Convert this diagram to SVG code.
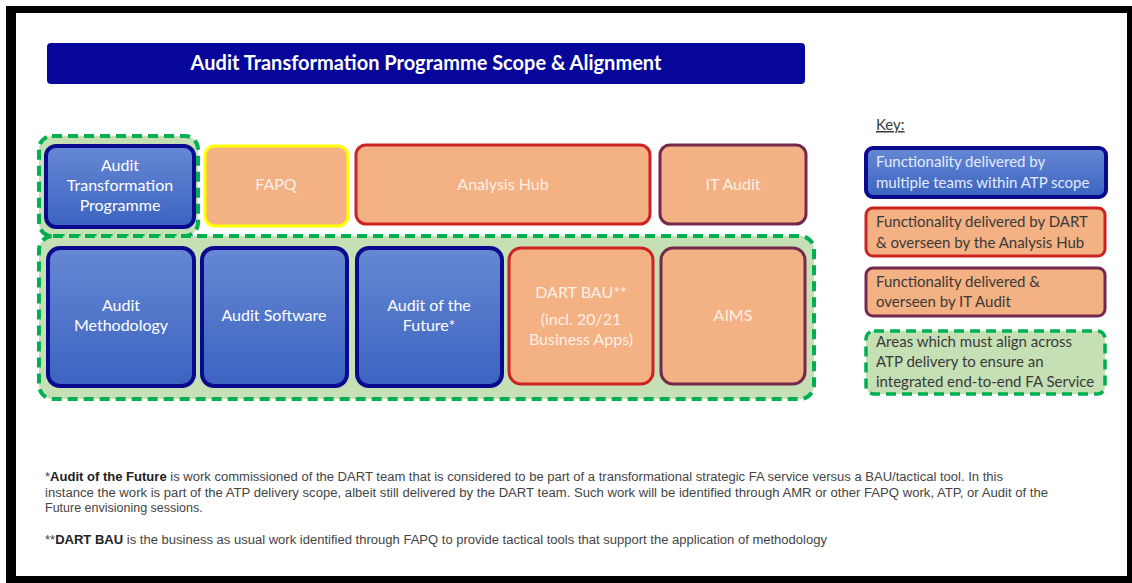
<svg xmlns="http://www.w3.org/2000/svg" width="1132" height="583" viewBox="0 0 1132 583">
  <defs>
    <linearGradient id="blueFill" x1="0" y1="0" x2="0" y2="1">
      <stop offset="0" stop-color="#6688d4"/>
      <stop offset="1" stop-color="#3b63c0"/>
    </linearGradient>
    <style>
      .blue { fill: url(#blueFill); stroke: #0a0a8e; stroke-width: 4; }
      .peach { fill: #f4b183; stroke-width: 3; }
      .red { stroke: #cc2222; }
      .maroon { stroke: #74284e; }
      .yellow { stroke: #ffff00; }
      .zone { fill: #c5e0b4; stroke: #00b050; stroke-width: 4; stroke-dasharray: 10 6; }
      .lbl { font-family: Lato, "Open Sans", sans-serif; font-size: 16px; fill: #ffffff; text-anchor: middle; }
      .lblp { fill: #fdf0e6; }
      .key { font-family: Lato, "Open Sans", sans-serif; font-size: 15px; fill: #3a3a3a; }
      .keyb { fill: #e3ebfb; }
      .note { font-family: "Liberation Sans", Arial, sans-serif; font-size: 12.5px; fill: #444444; }
      .em { font-weight: bold; fill: #222222; }
    </style>
  </defs>

  <!-- slide frame -->
  <rect x="6" y="6" width="1126" height="577" fill="#000000"/>
  <rect x="16" y="13" width="1111" height="563" fill="#ffffff"/>

  <!-- title bar -->
  <g id="title">
    <rect x="47" y="43" width="758" height="41" rx="4" fill="#06069a"/>
    <text x="426" y="70" font-family="Lato, 'Open Sans', sans-serif" font-size="20" font-weight="bold" fill="#ffffff" text-anchor="middle">Audit Transformation Programme Scope &amp; Alignment</text>
  </g>

  <!-- alignment zones -->
  <g id="zones">
    <rect class="zone" x="39" y="136" width="159" height="100" rx="13"/>
    <rect class="zone" x="39" y="236" width="775" height="163" rx="14"/>
  </g>

  <!-- top row -->
  <g id="atp">
    <rect class="blue" x="46" y="146" width="148" height="81" rx="10"/>
    <text class="lbl" x="120" y="171">Audit</text>
    <text class="lbl" x="120" y="191">Transformation</text>
    <text class="lbl" x="120" y="211">Programme</text>
  </g>
  <g id="fapq">
    <rect class="peach yellow" x="205" y="146" width="143" height="80" rx="10"/>
    <text class="lbl lblp" x="276" y="190">FAPQ</text>
  </g>
  <g id="analysis-hub">
    <rect class="peach red" x="356" y="145" width="294" height="79" rx="10"/>
    <text class="lbl lblp" x="503" y="190">Analysis Hub</text>
  </g>
  <g id="it-audit">
    <rect class="peach maroon" x="660" y="145" width="146" height="79" rx="10"/>
    <text class="lbl lblp" x="733" y="190">IT Audit</text>
  </g>

  <!-- bottom row -->
  <g id="audit-methodology">
    <rect class="blue" x="48" y="248" width="146" height="138" rx="12"/>
    <text class="lbl" x="121" y="311">Audit</text>
    <text class="lbl" x="121" y="331">Methodology</text>
  </g>
  <g id="audit-software">
    <rect class="blue" x="202" y="248" width="145" height="138" rx="12"/>
    <text class="lbl" x="274" y="321">Audit Software</text>
  </g>
  <g id="audit-future">
    <rect class="blue" x="357" y="248" width="145" height="138" rx="12"/>
    <text class="lbl" x="429" y="311">Audit of the</text>
    <text class="lbl" x="429" y="331">Future*</text>
  </g>
  <g id="dart-bau">
    <rect class="peach red" x="509" y="248" width="144" height="136" rx="12"/>
    <text class="lbl lblp" x="581" y="298">DART BAU**</text>
    <text class="lbl lblp" x="581" y="325">(incl. 20/21</text>
    <text class="lbl lblp" x="581" y="345">Business Apps)</text>
  </g>
  <g id="aims">
    <rect class="peach maroon" x="661" y="248" width="144" height="136" rx="12"/>
    <text class="lbl lblp" x="733" y="321">AIMS</text>
  </g>

  <!-- key -->
  <g id="key">
    <text class="key" x="876" y="130" text-decoration="underline">Key:</text>
    <rect class="blue" x="866" y="148" width="240" height="49" rx="7"/>
    <text class="key keyb" x="876" y="167">Functionality delivered by</text>
    <text class="key keyb" x="876" y="188">multiple teams within ATP scope</text>

    <rect class="peach red" x="866" y="208" width="239" height="48" rx="7"/>
    <text class="key" x="876" y="227">Functionality delivered by DART</text>
    <text class="key" x="876" y="248">&amp; overseen by the Analysis Hub</text>

    <rect class="peach maroon" x="866" y="268" width="239" height="48" rx="7"/>
    <text class="key" x="876" y="287">Functionality delivered &amp;</text>
    <text class="key" x="876" y="307">overseen by IT Audit</text>

    <rect class="zone" x="866" y="331" width="239" height="63" rx="8" style="stroke-width:3.5"/>
    <text class="key" x="876" y="347">Areas which must align across</text>
    <text class="key" x="876" y="367">ATP delivery to ensure an</text>
    <text class="key" x="876" y="387">integrated end-to-end FA Service</text>
  </g>

  <!-- footnotes -->
  <g id="notes">
    <text class="note" x="45" y="481" textLength="958" lengthAdjust="spacingAndGlyphs">*<tspan class="em">Audit of the Future</tspan> is work commissioned of the DART team that is considered to be part of a transformational strategic FA service versus a BAU/tactical tool. In this</text>
    <text class="note" x="45" y="497" textLength="1003" lengthAdjust="spacingAndGlyphs">instance the work is part of the ATP delivery scope, albeit still delivered by the DART team. Such work will be identified through AMR or other FAPQ work, ATP, or Audit of the</text>
    <text class="note" x="45" y="512">Future envisioning sessions.</text>
    <text class="note" x="45" y="544" textLength="782" lengthAdjust="spacingAndGlyphs">**<tspan class="em">DART BAU</tspan> is the business as usual work identified through FAPQ to provide tactical tools that support the application of methodology</text>
  </g>
</svg>
